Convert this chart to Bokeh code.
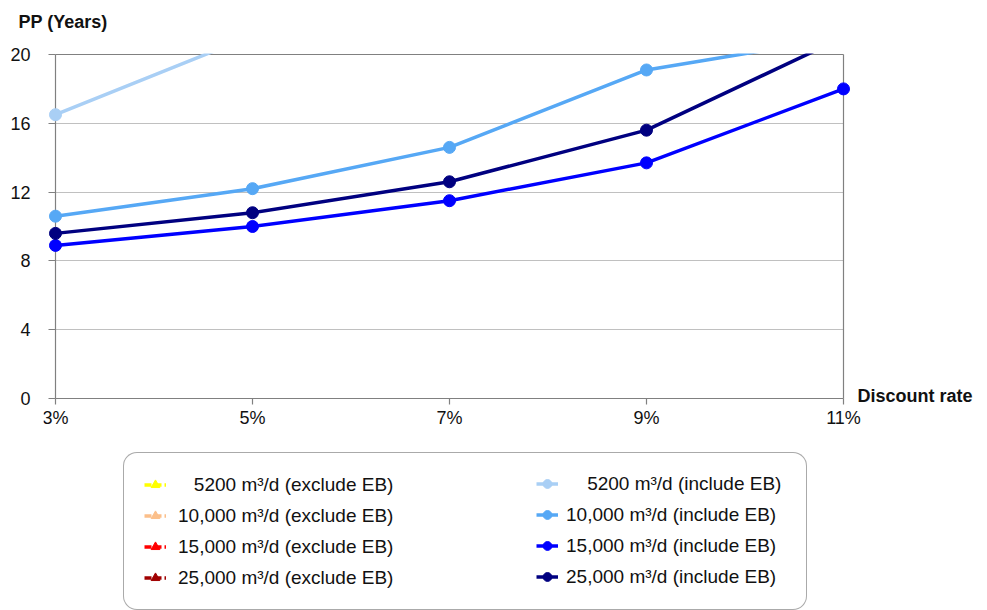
from bokeh.plotting import figure
from bokeh.models import (Range1d, FixedTicker, Legend, LegendItem, Label, Grid)
from bokeh.embed import file_html
from bokeh.resources import INLINE

# ---------------- data ----------------
rates = ["3%", "5%", "7%", "9%", "11%"]
y_ticks = [0, 4, 8, 12, 16, 20]

# include environmental benefits (visible part of the chart)
incl_5200 = [16.5, 21.1, 26.0, 32.0, 39.0]
incl_10000 = [10.6, 12.2, 14.6, 19.1, 21.0]
incl_15000 = [8.9, 10.0, 11.5, 13.7, 18.0]
incl_25000 = [9.6, 10.8, 12.6, 15.6, 21.0]

# exclude environmental benefits (all above the visible range)
excl_5200 = [34.0, 45.0, 60.0, 80.0, 105.0]
excl_10000 = [26.0, 31.0, 38.0, 48.0, 62.0]
excl_15000 = [23.0, 27.0, 32.0, 40.0, 51.0]
excl_25000 = [21.5, 25.0, 29.5, 36.0, 46.0]

excl_labels = ["\u2007\u20085200 m\u00b3/d (exclude EB)", "10,000 m\u00b3/d (exclude EB)",
               "15,000 m\u00b3/d (exclude EB)", "25,000 m\u00b3/d (exclude EB)"]
incl_labels = ["\u2007\u20075200 m\u00b3/d (include EB)", "10,000 m\u00b3/d (include EB)",
               "15,000 m\u00b3/d (include EB)", "25,000 m\u00b3/d (include EB)"]
excl_colors = ["#ffff00", "#fbbf8a", "#ff0000", "#a00000"]
incl_colors = ["#a9cff5", "#56a8f5", "#0000ff", "#000080"]

excl_series = [excl_5200, excl_10000, excl_15000, excl_25000]
incl_series = [incl_5200, incl_10000, incl_15000, incl_25000]

# ---------------- layout (pixels) ----------------
FONT = "Liberation Sans"
W, H = 987, 610
TOP = 54            # pixel row of the 20 line
LEFT = 43           # pixel column of the frame's left edge
X_FIRST, X_LAST = 55, 843   # pixel columns of first / last category
Y_ZERO = 398        # pixel row of y = 0
n = len(rates)
xs = list(range(n))
ymax = y_ticks[-1]
ux = (X_LAST - X_FIRST) / (n - 1)
uy = (Y_ZERO - TOP) / ymax

p = figure(width=W, height=H, output_backend="svg", toolbar_location=None,
           x_range=Range1d(-(X_FIRST - LEFT) / ux, (W - X_FIRST) / ux),
           y_range=Range1d(-(H - Y_ZERO) / uy, ymax + 1.0 / uy),
           min_border_left=LEFT, min_border_right=0, min_border_top=TOP - 1,
           min_border_bottom=0)
p.outline_line_color = None
p.background_fill_color = "white"
p.border_fill_color = "white"

# grid
p.xgrid.visible = False
p.ygrid.ticker = FixedTicker(ticks=y_ticks[1:-1])
p.ygrid.grid_line_color = "#c0c0c0"
p.ygrid.grid_line_width = 1
p.ygrid.cross_bounds = (0, n - 1)

# frame borders: y axis line at 3%, top at 20, right at 11%
p.add_layout(Grid(dimension=1, ticker=FixedTicker(ticks=[ymax]),
                  grid_line_color="#808080", grid_line_width=1.2, cross_bounds=(0, n - 1)))
p.add_layout(Grid(dimension=0, ticker=FixedTicker(ticks=[0, n - 1]),
                  grid_line_color="#808080", grid_line_width=1.2, cross_bounds=(0, ymax)))

# axes
p.xaxis.ticker = FixedTicker(ticks=xs)
p.xaxis.major_label_overrides = {i: r for i, r in enumerate(rates)}
p.xaxis.bounds = (0, n - 1)
p.xaxis.fixed_location = 0
p.yaxis.ticker = FixedTicker(ticks=y_ticks)
p.yaxis.bounds = (0, ymax)
for ax in (p.xaxis, p.yaxis):
    ax.axis_line_color = "#808080"
    ax.axis_line_width = 1.2
    ax.major_tick_line_color = "#808080"
    ax.major_tick_line_width = 1.2
    ax.minor_tick_line_color = None
    ax.major_label_text_font = FONT
    ax.major_label_text_font_size = "18px"
    ax.major_label_text_color = "#111111"
p.xaxis.major_tick_out = 6
p.xaxis.major_tick_in = 0
p.xaxis.major_label_standoff = 3
p.yaxis.axis_line_color = None
p.yaxis.major_tick_out = -5
p.yaxis.major_tick_in = 12
p.yaxis.major_label_standoff = 13

# series
excl_items = []
for lab, col, ser in zip(excl_labels, excl_colors, excl_series):
    r1 = p.line(xs, ser, line_color=col, line_width=3.5, line_dash="7 3")
    r2 = p.scatter(xs, ser, marker="triangle", size=13, fill_color=col, line_color=col)
    excl_items.append(LegendItem(label=lab, renderers=[r1, r2]))

incl_items = []
for lab, col, ser in zip(incl_labels, incl_colors, incl_series):
    r1 = p.line(xs, ser, line_color=col, line_width=3.5)
    r2 = p.scatter(xs, ser, marker="circle", size=12, fill_color=col, line_color=col)
    incl_items.append(LegendItem(label=lab, renderers=[r1, r2]))

common = dict(label_text_font=FONT, label_text_font_size="19px", label_text_color="#111111",
              glyph_width=22, glyph_height=23, label_height=23, spacing=8, padding=20,
              margin=0, orientation="vertical")

leg_left = Legend(items=excl_items, location=(123 - LEFT, 0), label_standoff=12,
                  label_width=608, border_line_color="#555555", border_line_width=1.2,
                  background_fill_color="white", background_fill_alpha=1.0, **common)
if "border_radius" in Legend.properties():
    leg_left.border_radius = 14
leg_right = Legend(items=incl_items, location=(536 - LEFT, 22), label_standoff=8,
                   border_line_color=None, background_fill_alpha=0.0, **common)
p.add_layout(leg_left, "center")
p.add_layout(leg_right, "center")

# axis titles
p.add_layout(Label(x=18 - LEFT, y=TOP - 1 - 21, x_units="screen", y_units="screen",
                   text="PP (Years)",
                   text_font=FONT, text_font_size="18px", text_font_style="bold",
                   text_baseline="middle", text_color="#111111"), "above")
p.add_layout(Label(x=857 - LEFT, y=H - 395, x_units="screen", y_units="screen",
                   text="Discount rate",
                   text_font=FONT, text_font_size="18px", text_font_style="bold",
                   text_baseline="middle", text_color="#111111"))

open("out.html", "w").write(file_html(p, INLINE))
